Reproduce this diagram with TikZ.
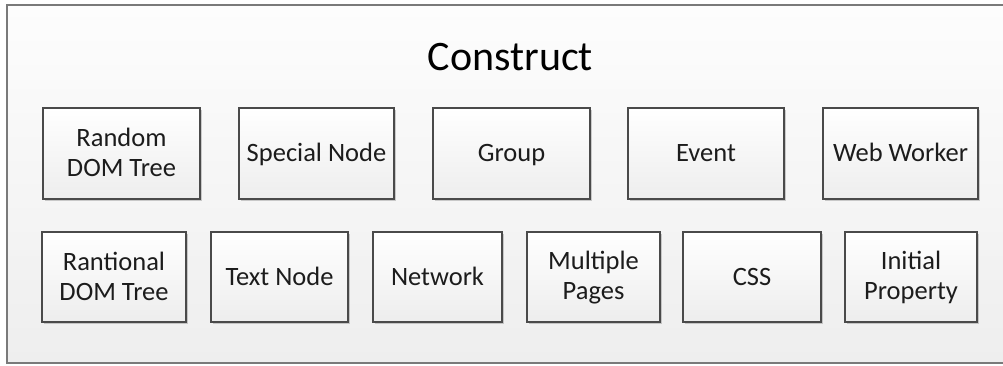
\documentclass[tikz,border=0pt]{standalone}
\usepackage{fontspec}
\setmainfont{Carlito}
\usetikzlibrary{shadows}
\definecolor{boxline}{HTML}{4A4A4A}
\definecolor{outerline}{HTML}{7A7A7A}
\definecolor{txt}{HTML}{1C1C1C}
\definecolor{bgtop}{HTML}{FDFDFD}
\definecolor{bgbot}{HTML}{EEEEEE}
\definecolor{boxbot}{HTML}{EDEDED}
\newcommand\bstrut{\rule[-3.2pt]{0pt}{23.2pt}}
\tikzset{
  itembox/.style={draw=boxline, line width=1.3pt, rectangle, align=center,
    top color=white, bottom color=boxbot, text=txt,
    font=\fontsize{26.5}{30}\selectfont, inner sep=0pt,
    drop shadow={shadow xshift=2pt, shadow yshift=-2pt, opacity=0.18, fill=black}},
  titletext/.style={font=\fontsize{42}{46}\selectfont, text=black, anchor=base, inner sep=0pt},
}
\begin{document}
\begin{tikzpicture}[x=1pt,y=-1pt]
\useasboundingbox (0,0) rectangle (1003,365);
\clip (0,0) rectangle (1003,365);
\draw[draw=outerline, line width=1.8pt, top color=bgtop, bottom color=bgbot] (7,5) rectangle (1020,363);
\node[titletext] (title) at (510.5,70) {Construct};
% top row
\node[itembox, minimum width=157pt, minimum height=91pt] (rdt) at (121.5,153.5) {\bstrut Random\\\bstrut DOM Tree};
\node[itembox, minimum width=155pt, minimum height=91pt] (sn) at (316.5,153.5) {\bstrut Special Node};
\node[itembox, minimum width=157pt, minimum height=91pt] (grp) at (511.5,153.5) {\bstrut Group};
\node[itembox, minimum width=156pt, minimum height=91pt] (evt) at (706,153.5) {\bstrut Event};
\node[itembox, minimum width=155pt, minimum height=91pt] (ww) at (900.5,153.5) {\bstrut Web Worker};
% bottom row
\node[itembox, minimum width=144pt, minimum height=90pt] (rat) at (114,277) {\bstrut Rantional\\\bstrut DOM Tree};
\node[itembox, minimum width=137pt, minimum height=90pt] (tn) at (279.5,277) {\bstrut Text Node};
\node[itembox, minimum width=129pt, minimum height=90pt] (net) at (437.5,277) {\bstrut Network};
\node[itembox, minimum width=133pt, minimum height=90pt] (mp) at (593.5,277) {\bstrut Multiple\\\bstrut Pages};
\node[itembox, minimum width=138pt, minimum height=90pt] (css) at (752,277) {\bstrut CSS};
\node[itembox, minimum width=132pt, minimum height=90pt] (ip) at (911,277) {\bstrut Initial\\\bstrut Property};
\end{tikzpicture}
\end{document}
